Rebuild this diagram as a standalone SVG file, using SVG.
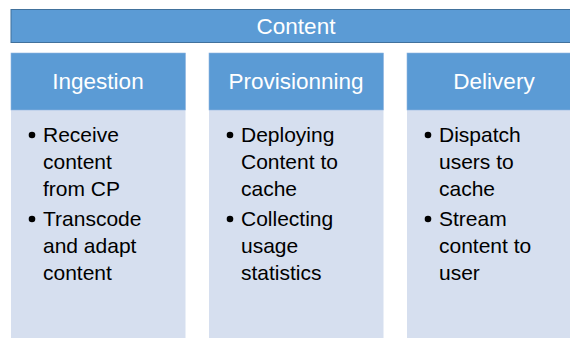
<svg xmlns="http://www.w3.org/2000/svg" width="570" height="338" viewBox="0 0 570 338">
<style>
.bar{fill:#5B9BD5;stroke:#41719C;stroke-width:1}
.hdr{fill:#5B9BD5;stroke:#8FB5E0;stroke-width:0.6}
.body{fill:#D6DFEF}
.ht{font-family:"Liberation Sans",Arial,sans-serif;font-size:22.5px;fill:#FFFFFF;text-anchor:middle}
.bt{font-family:"Liberation Sans",Arial,sans-serif;font-size:21px;fill:#000000}
.dot{fill:#000000}
</style>
<rect width="570" height="338" fill="#FFFFFF"/>
<g id="content">
<rect class="bar" x="11" y="9.5" width="572" height="33"/>
<text class="ht" x="296" y="34">Content</text>
</g>
<g id="ingestion">
<rect class="body" x="11" y="110" width="174.5" height="230"/>
<rect class="hdr" x="11" y="53" width="174.5" height="57"/>
<text class="ht" x="98" y="89">Ingestion</text>
<circle class="dot" cx="32" cy="135" r="3.3"/>
<text class="bt" x="43" y="142">Receive</text>
<text class="bt" x="43" y="169">content</text>
<text class="bt" x="43" y="196">from CP</text>
<circle class="dot" cx="32" cy="219" r="3.3"/>
<text class="bt" x="43" y="226">Transcode</text>
<text class="bt" x="43" y="253">and adapt</text>
<text class="bt" x="43" y="280">content</text>
</g>
<g id="provisionning">
<rect class="body" x="209" y="110" width="174.5" height="230"/>
<rect class="hdr" x="209" y="53" width="174.5" height="57"/>
<text class="ht" x="296" y="89">Provisionning</text>
<circle class="dot" cx="230" cy="135" r="3.3"/>
<text class="bt" x="241" y="142">Deploying</text>
<text class="bt" x="241" y="169">Content to</text>
<text class="bt" x="241" y="196">cache</text>
<circle class="dot" cx="230" cy="219" r="3.3"/>
<text class="bt" x="241" y="226">Collecting</text>
<text class="bt" x="241" y="253">usage</text>
<text class="bt" x="241" y="280">statistics</text>
</g>
<g id="delivery">
<rect class="body" x="407" y="110" width="176" height="230"/>
<rect class="hdr" x="407" y="53" width="176" height="57"/>
<text class="ht" x="494" y="89">Delivery</text>
<circle class="dot" cx="428" cy="135" r="3.3"/>
<text class="bt" x="439" y="142">Dispatch</text>
<text class="bt" x="439" y="169">users to</text>
<text class="bt" x="439" y="196">cache</text>
<circle class="dot" cx="428" cy="219" r="3.3"/>
<text class="bt" x="439" y="226">Stream</text>
<text class="bt" x="439" y="253">content to</text>
<text class="bt" x="439" y="280">user</text>
</g>
<g id="connectors"/>
</svg>
